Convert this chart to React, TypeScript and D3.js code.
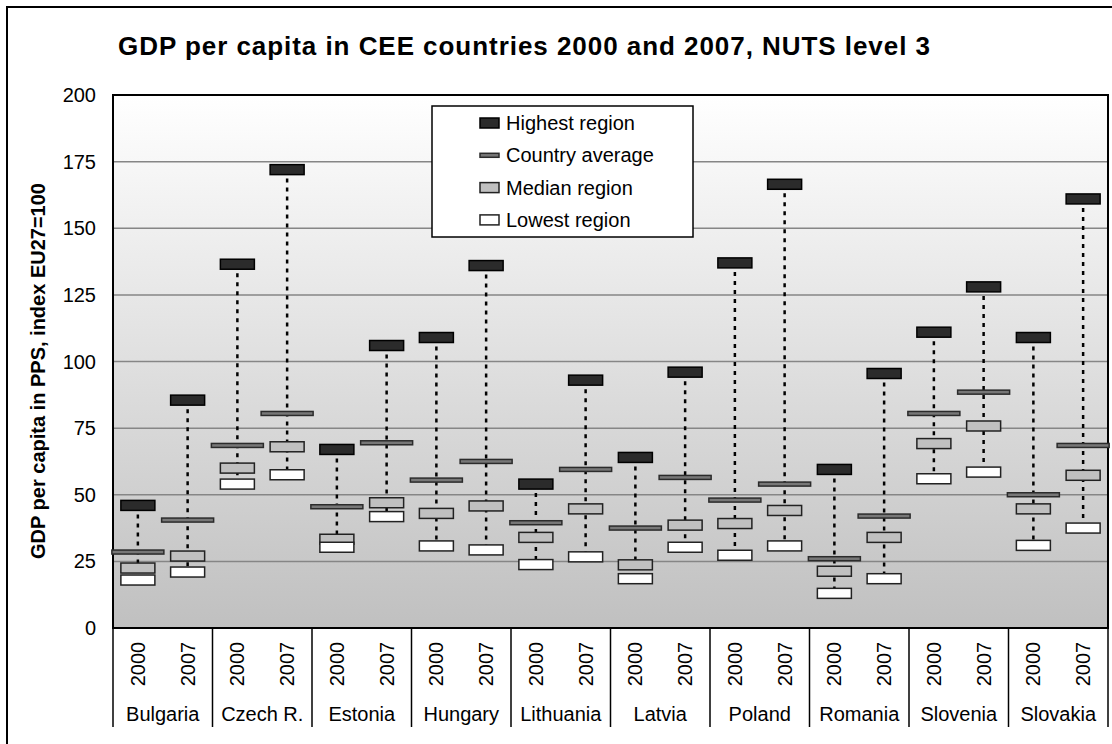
import React, { useEffect, useRef } from "react";
import * as d3 from "d3";

const countries = ["Bulgaria", "Czech R.", "Estonia", "Hungary", "Lithuania", "Latvia", "Poland", "Romania", "Slovenia", "Slovakia"];
const years = ["2000", "2007"];

// values per country/year, in slot order (country x year)
const highest = [46, 85.5, 136.5, 172, 67, 106, 109, 136, 54, 93, 64, 96, 137, 166.5, 59.5, 95.5, 111, 128, 109, 161];
const average = [28.5, 40.5, 68.5, 80.5, 45.5, 69.5, 55.5, 62.5, 39.5, 59.5, 37.5, 56.5, 48, 54, 26, 42, 80.5, 88.5, 50, 68.5];
const median = [22.5, 27, 60, 68, 33.3, 47, 43, 45.8, 34, 44.7, 23.7, 38.6, 39.2, 44.1, 21.3, 34, 69.2, 75.8, 44.7, 57.3];
const lowest = [18, 21, 54, 57.5, 30.3, 41.8, 30.8, 29.3, 23.8, 26.7, 18.5, 30.3, 27.3, 30.8, 13, 18.5, 56, 58.5, 31, 37.5];

const yTicks = [0, 25, 50, 75, 100, 125, 150, 175, 200];
const legendItems = ["Highest region", "Country average", "Median region", "Lowest region"];

const FONT = "'Liberation Sans', Arial, sans-serif";

export default function App() {
  const ref = useRef<SVGSVGElement>(null);

  useEffect(() => {
    const svg = d3.select(ref.current);
    svg.selectAll("*").remove();

    const left = 113, right = 1108, top = 95, bottom = 628;

    const slots = countries.flatMap((c) => years.map((yr) => c + "|" + yr));
    const x = d3.scaleBand().domain(slots).range([left, right]).padding(0);
    const y = d3.scaleLinear().domain([0, 200]).range([bottom, top]);
    const cx = (i: number) => (x(slots[i]) as number) + x.bandwidth() / 2;

    const defs = svg.append("defs");
    const grad = defs.append("linearGradient").attr("id", "bg").attr("x1", 0).attr("y1", 0).attr("x2", 0).attr("y2", 1);
    grad.append("stop").attr("offset", "0%").attr("stop-color", "#ffffff");
    grad.append("stop").attr("offset", "100%").attr("stop-color", "#c0c0c0");

    // outer frame
    svg.append("rect").attr("x", 7).attr("y", 7).attr("width", 1110).attr("height", 745)
      .attr("fill", "#fff").attr("stroke", "#000").attr("stroke-width", 2);

    // title
    svg.append("text").attr("x", 118).attr("y", 55)
      .attr("font-family", FONT).attr("font-weight", "bold").attr("font-size", 26)
      .attr("textLength", 812).attr("lengthAdjust", "spacing")
      .text("GDP per capita in CEE countries 2000 and 2007, NUTS level 3");

    // plot area
    svg.append("rect").attr("x", left).attr("y", top).attr("width", right - left).attr("height", bottom - top)
      .attr("fill", "url(#bg)");

    svg.append("g").selectAll("line").data(yTicks.filter((t) => t > 0 && t < 200)).join("line")
      .attr("x1", left).attr("x2", right).attr("y1", (d) => y(d)).attr("y2", (d) => y(d))
      .attr("stroke", "#868686").attr("stroke-width", 1.5);

    svg.append("rect").attr("x", left).attr("y", top).attr("width", right - left).attr("height", bottom - top)
      .attr("fill", "none").attr("stroke", "#000").attr("stroke-width", 2);

    // y tick labels
    svg.append("g").selectAll("text").data(yTicks).join("text")
      .attr("x", 96).attr("y", (d) => y(d) + 7).attr("text-anchor", "end")
      .attr("font-family", FONT).attr("font-size", 20).text((d) => d);

    // y title
    svg.append("text").attr("transform", `translate(45,371) rotate(-90)`)
      .attr("text-anchor", "middle").attr("font-family", FONT).attr("font-weight", "bold").attr("font-size", 20)
      .text("GDP per capita in PPS, index EU27=100");

    // category axis
    const sep = d3.range(countries.length + 1).map((i) => left + (i * (right - left)) / countries.length);
    svg.append("g").selectAll("line").data(sep).join("line")
      .attr("x1", (d) => d).attr("x2", (d) => d).attr("y1", bottom).attr("y2", 727)
      .attr("stroke", "#000").attr("stroke-width", 1.5);

    svg.append("g").selectAll("text").data(slots).join("text")
      .attr("transform", (d) => `translate(${(x(d) as number) + x.bandwidth() / 2 + 7},664) rotate(-90)`)
      .attr("text-anchor", "middle").attr("font-family", FONT).attr("font-size", 20)
      .text((d) => d.split("|")[1]);

    svg.append("g").selectAll("text").data(countries).join("text")
      .attr("x", (d, i) => (sep[i] + sep[i + 1]) / 2).attr("y", 721).attr("text-anchor", "middle")
      .attr("font-family", FONT).attr("font-size", 20).text((d) => d);

    // high-low dotted lines
    svg.append("g").selectAll("line").data(slots).join("line")
      .attr("x1", (d, i) => cx(i)).attr("x2", (d, i) => cx(i))
      .attr("y1", (d, i) => y(highest[i])).attr("y2", (d, i) => y(lowest[i]))
      .attr("stroke", "#000").attr("stroke-width", 2.5).attr("stroke-dasharray", "4,5");

    const markers = [
      { data: highest, w: 34, h: 10, fill: "#2b2b2b", stroke: "#000" },
      { data: average, w: 52, h: 4, fill: "#777777", stroke: "#2b2b2b" },
      { data: median, w: 34, h: 10, fill: "#c0c0c0", stroke: "#222" },
      { data: lowest, w: 34, h: 10, fill: "#ffffff", stroke: "#222" },
    ];
    const drawOrder = [1, 2, 3, 0];
    drawOrder.forEach((k) => {
      const m = markers[k];
      svg.append("g").selectAll("rect").data(m.data).join("rect")
        .attr("x", (d, i) => cx(i) - m.w / 2).attr("y", (d) => y(d) - m.h / 2)
        .attr("width", m.w).attr("height", m.h)
        .attr("fill", m.fill).attr("stroke", m.stroke).attr("stroke-width", 1.5);
    });

    // legend
    const lg = svg.append("g");
    lg.append("rect").attr("x", 432).attr("y", 106).attr("width", 261).attr("height", 131)
      .attr("fill", "#fff").attr("stroke", "#000").attr("stroke-width", 1.5);
    legendItems.forEach((name, i) => {
      const m = markers[i];
      const ly = 123 + i * 32.3;
      lg.append("rect").attr("x", 480).attr("y", ly - m.h / 2).attr("width", 19).attr("height", m.h)
        .attr("fill", m.fill).attr("stroke", m.stroke).attr("stroke-width", 1.5);
      lg.append("text").attr("x", 506).attr("y", ly + 7).attr("font-family", FONT).attr("font-size", 20).text(name);
    });
  }, []);

  return <svg ref={ref} width={1112} height={744} style={{ position: "absolute", left: 0, top: 0 }} />;
}
